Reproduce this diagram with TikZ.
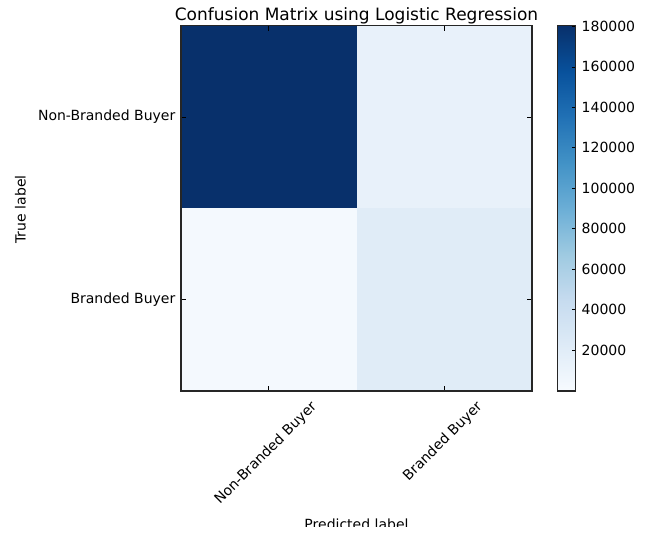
\documentclass[tikz,border=0pt]{standalone}
\usepackage{fontspec}
\setmainfont{DejaVu Sans}
% Blues colour map stops
\definecolor{cA}{RGB}{247,251,255}
\definecolor{cB}{RGB}{222,235,247}
\definecolor{cC}{RGB}{198,219,239}
\definecolor{cD}{RGB}{158,202,225}
\definecolor{cE}{RGB}{107,174,214}
\definecolor{cF}{RGB}{66,146,198}
\definecolor{cG}{RGB}{33,113,181}
\definecolor{cH}{RGB}{8,81,156}
\definecolor{cI}{RGB}{8,48,107}
% cell colours
\definecolor{cellTL}{RGB}{8,48,107}
\definecolor{cellTR}{RGB}{232,241,250}
\definecolor{cellBL}{RGB}{244,249,254}
\definecolor{cellBR}{RGB}{224,236,247}
\begin{document}
\begin{tikzpicture}[x=1pt,y=-1pt,
  lbl/.style={font=\fontsize{14}{16}\selectfont, inner sep=0pt, text=black},
  ttl/.style={font=\fontsize{17}{20}\selectfont, inner sep=0pt, text=black},
  frame/.style={draw=black!85, line width=1.1pt},
  tk/.style={black, line width=0.7pt}]
\useasboundingbox (0,0) rectangle (652,534);

% matrix cells
\fill[cellTL] (181,25.7) rectangle (356.5,208.3);
\fill[cellTR] (356.5,25.7) rectangle (532,208.3);
\fill[cellBL] (181,208.3) rectangle (356.5,391);
\fill[cellBR] (356.5,208.3) rectangle (532,391);

% inward ticks on all four sides
\foreach \x in {268.75,444.25} {
  \draw[tk] (\x,25.7) -- ++(0,5);
  \draw[tk] (\x,391) -- ++(0,-5);
}
\foreach \y in {117,299.6} {
  \draw[tk] (181,\y) -- ++(5,0);
  \draw[tk] (532,\y) -- ++(-5,0);
}
\draw[frame] (181,25.7) rectangle (532,391);

% title and axis labels
\node[ttl, anchor=base] (title) at (356.5,20.5) {Confusion Matrix using Logistic Regression};
\node[lbl, anchor=base, rotate=90] (ylab) at (25.5,209.5) {True label};
\begin{scope}
  \clip (0,0) rectangle (652,526.8);
  \node[lbl, anchor=base] (xlab) at (356.5,529.5) {Predicted label};
\end{scope}

% row tick labels
\node[lbl, anchor=east] (r1) at (175.5,117) {Non-Branded Buyer};
\node[lbl, anchor=east] (r2) at (175.5,299.6) {Branded Buyer};

% column tick labels, rotated
\node[lbl, rotate=45] (c1) at (266,453.5) {Non-Branded Buyer};
\node[lbl, rotate=45] (c2) at (443,441.5) {Branded Buyer};

% colour bar
\def\seg{45.6625}
\foreach \i/\a/\b in {0/cA/cB,1/cB/cC,2/cC/cD,3/cD/cE,4/cE/cF,5/cF/cG,6/cG/cH,7/cH/cI} {
  \shade[bottom color=\a, top color=\b]
    (557.5,{391-\i*\seg+0.2}) rectangle (575.5,{391-(\i+1)*\seg-0.2});
}
\foreach \v in {1,...,9} {
  \draw[tk] (575.5,{390.4-\v*40.44}) -- ++(-4,0);
  \node[lbl, anchor=west] (cb\v) at (581.5,{390.4-\v*40.44}) {\number\numexpr\v*20000\relax};
}
\draw[frame] (557.5,25.7) rectangle (575.5,391);
\end{tikzpicture}
\end{document}
